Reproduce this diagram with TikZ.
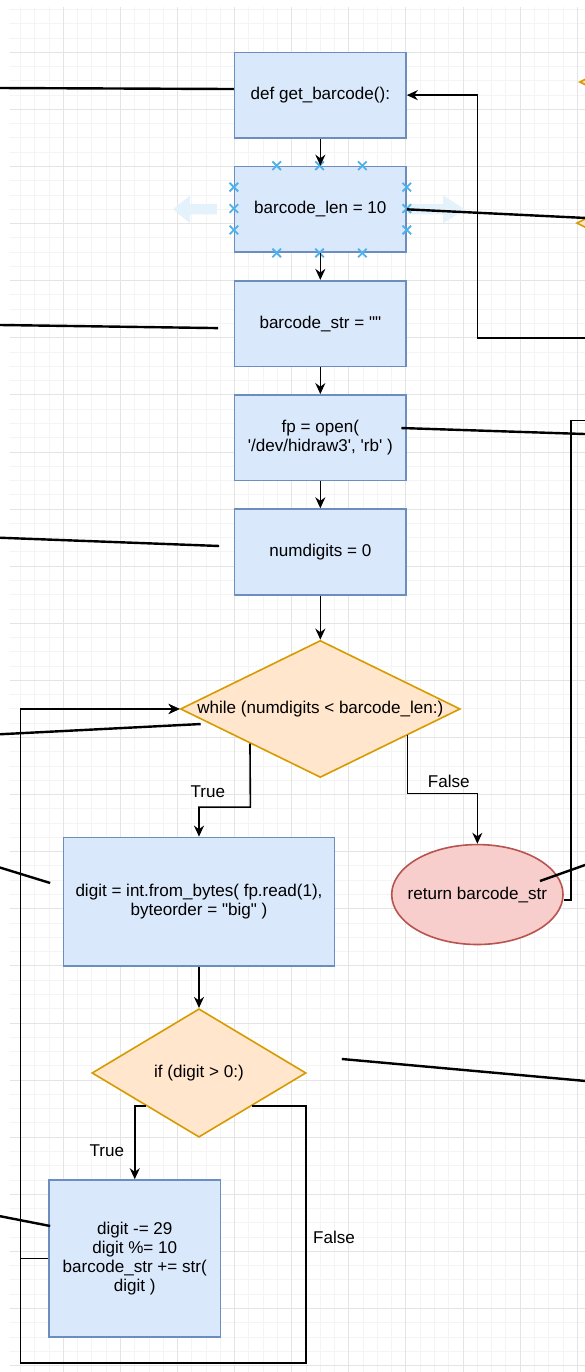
\documentclass[tikz,border=0pt]{standalone}
\usepackage{fontspec}
\newfontfamily\dfont{Liberation Sans}
\usetikzlibrary{arrows.meta,shapes.geometric,calc}

\definecolor{boxfill}{HTML}{DAE8FC}
\definecolor{boxline}{HTML}{6C8EBF}
\definecolor{decfill}{HTML}{FFE6CC}
\definecolor{decline}{HTML}{D79B00}
\definecolor{endfill}{HTML}{F8CECC}
\definecolor{endline}{HTML}{B85450}
\definecolor{gridmaj}{HTML}{E4E4E4}
\definecolor{gridmin}{HTML}{F4F4F4}
\definecolor{handleblue}{HTML}{4FB0EA}
\definecolor{ghostblue}{HTML}{E4F2FB}

\tikzset{
  proc/.style={draw=boxline,fill=boxfill,line width=0.8pt,minimum width=3cm,minimum height=1.5cm,inner sep=0pt,align=center},
  decision/.style={diamond,draw=decline,fill=decfill,line width=0.8pt,inner sep=0pt},
  ending/.style={ellipse,draw=endline,fill=endfill,line width=0.8pt,inner sep=0pt},
  flow/.style={->,line width=0.8pt},
  note/.style={line width=1.2pt},
  handle/.style={draw=handleblue,line width=0.9pt}
}

\begin{document}
\begin{tikzpicture}[>={Stealth[length=5.5pt,width=5pt,inset=1.8pt]},every node/.style={font=\dfont\fontsize{8.5}{9.6}\selectfont}]

% PAGE AND GRID

\useasboundingbox (-0.110,-24.112) rectangle (10.135,-0.084);
\fill[white] (-0.110,-24.112) rectangle (10.135,-0.084);
\begin{scope}
\clip (0.065,-24.112) rectangle (10.135,-0.224);
\draw[gridmin,line width=0.5pt,step=0.25] (-1,-25) grid (11,1);
\draw[gridmaj,line width=0.5pt,step=1] (-1,-25) grid (11,1);
\end{scope}

% shapes cut off at the right edge
\draw[draw=decline,fill=decfill,line width=0.8pt] (10.047,-1.52) -- ++(0.8,0.4) -- ++(0.8,-0.4) -- ++(-0.8,-0.4) -- cycle;
\draw[draw=decline,fill=decfill,line width=0.8pt] (9.995,-3.99) -- ++(0.8,0.4) -- ++(0.8,-0.4) -- ++(-0.8,-0.4) -- cycle;

% hover arrows beside the selected box
\fill[ghostblue] (3.69,-3.66) -- (3.22,-3.66) -- (3.22,-3.505) -- (2.92,-3.75) -- (3.22,-3.995) -- (3.22,-3.84) -- (3.69,-3.84) -- cycle;
\fill[ghostblue] (7.035,-3.66) -- (7.65,-3.66) -- (7.65,-3.505) -- (8.03,-3.75) -- (7.65,-3.995) -- (7.65,-3.84) -- (7.035,-3.84) -- cycle;

% MAIN COLUMN

\node[proc] (def) at (5.5,-1.75) {def get\_barcode():};
\node[proc] (blen) at (5.5,-3.75) {barcode\_len = 10};
\node[proc] (bstr) at (5.5,-5.75) {barcode\_str = ""};
\node[proc] (fopen) at (5.5,-7.75) {fp = open(\\'/dev/hidraw3', 'rb' )};
\node[proc] (ndig) at (5.5,-9.75) {numdigits = 0};
\node[decision,minimum width=4.9cm,minimum height=2.4cm] (while) at (5.5,-12.5) {\makebox[0pt]{while (numdigits < barcode\_len:)}};
\node[proc,minimum width=4.75cm,minimum height=2.25cm] (read) at (3.375,-15.875) {digit = int.from\_bytes( fp.read(1),\\byteorder = "big" )};
\node[ending,minimum width=3cm,minimum height=1.75cm] (ret) at (8.25,-15.75) {\makebox[0pt]{return barcode\_str}};
\node[decision,minimum width=3.75cm,minimum height=2.25cm] (if) at (3.375,-18.875) {\makebox[0pt]{if (digit > 0:)}};
\node[proc,minimum height=2.75cm] (upd) at (2.25,-22.125) {digit -= 29\\digit \%= 10\\barcode\_str += str(\\digit )};

% selection handles
\path (blen.north west) ++(0.75,0) coordinate (h1) ++(0.75,0) coordinate (h2) ++(0.75,0) coordinate (h3);
\path (blen.south west) ++(0.75,0) coordinate (h4) ++(0.75,0) coordinate (h5) ++(0.75,0) coordinate (h6);
\path (blen.north west) ++(0,-0.375) coordinate (h7) ++(0,-0.375) coordinate (h8) ++(0,-0.375) coordinate (h9);
\path (blen.north east) ++(0,-0.375) coordinate (h10) ++(0,-0.375) coordinate (h11) ++(0,-0.375) coordinate (h12);
\foreach \h in {h1,h2,h3,h4,h5,h6,h7,h8,h9,h10,h11,h12}
  \draw[handle] (\h) ++(-0.075,-0.075) -- ++(0.15,0.15) ++(-0.15,0) -- ++(0.15,-0.15);

% FLOW

\draw[flow] (def) -- (blen);
\draw[flow] (blen) -- (bstr);
\draw[flow] (bstr) -- (fopen);
\draw[flow] (fopen) -- (ndig);
\draw[flow] (ndig) -- (while);

\draw[flow] (while.south west) -- (4.275,-14.22) -| (read.north);
\node (t1) at (3.53,-13.95) {True};
\draw[flow] ($(while.east)!0.38!(while.south)$) -- ++(0,-1.02) -| (ret.north);
\node (f1) at (7.75,-13.76) {False};

\draw[flow] (read) -- (if);
\draw[flow] ($(if.west)!0.511!(if.south)$) -| (upd.north);
\node (t2) at (1.76,-20.24) {True};
\draw[flow] ($(if.east)!0.511!(if.south)$) -| (5.25,-23.95) -- (0.25,-23.95) |- (while.west);
\node (f2) at (5.74,-21.75) {False};
\draw[flow] (upd.west) -- (0.25,-22.125) |- (while.west);

% lines leaving the page on the right
\coordinate (rin) at (10.2,-6);
\draw[flow] (rin) -- (8.25,-6) |- (def.east);
\coordinate (rout) at (10.2,-7.45);
\draw[line width=0.8pt] ($(ret.east)+(0,-0.1)$) -| (9.89,-7.45) -- (rout);

% COMMENT LINES

\coordinate (c1) at (-0.15,-1.625);
\coordinate (c2) at (10.2,-3.904);
\coordinate (c3) at (-0.15,-5.775);
\coordinate (c4) at (10.2,-7.687);
\coordinate (c5) at (-0.15,-9.5);
\coordinate (c6) at (-0.15,-12.945);
\coordinate (c7) at (-0.15,-15.265);
\coordinate (c8) at (10.2,-15.21);
\coordinate (c9) at (10.2,-19.02);
\coordinate (c10) at (-0.15,-21.375);

\draw[note] ($(def.west)+(0,0.107)$) -- (c1);
\draw[note] (blen.east) -- (c2);
\draw[note] ($(bstr.west)+(-0.275,-0.08)$) -- (c3);
\draw[note] ($(fopen.east)+(-0.093,0.17)$) -- (c4);
\draw[note] ($(ndig.west)+(-0.258,0.104)$) -- (c5);
\draw[note] ($(while.west)+(0.369,-0.264)$) -- (c6);
\draw[note] ($(read.west)+(-0.217,0.327)$) -- (c7);
\draw[note] ($(ret.center)+(1.097,0.237)$) -- (c8);
\draw[note] ($(if.east)+(0.612,0.245)$) -- (c9);
\draw[note] ($(upd.west)+(0.033,0.57)$) -- (c10);

\end{tikzpicture}
\end{document}
